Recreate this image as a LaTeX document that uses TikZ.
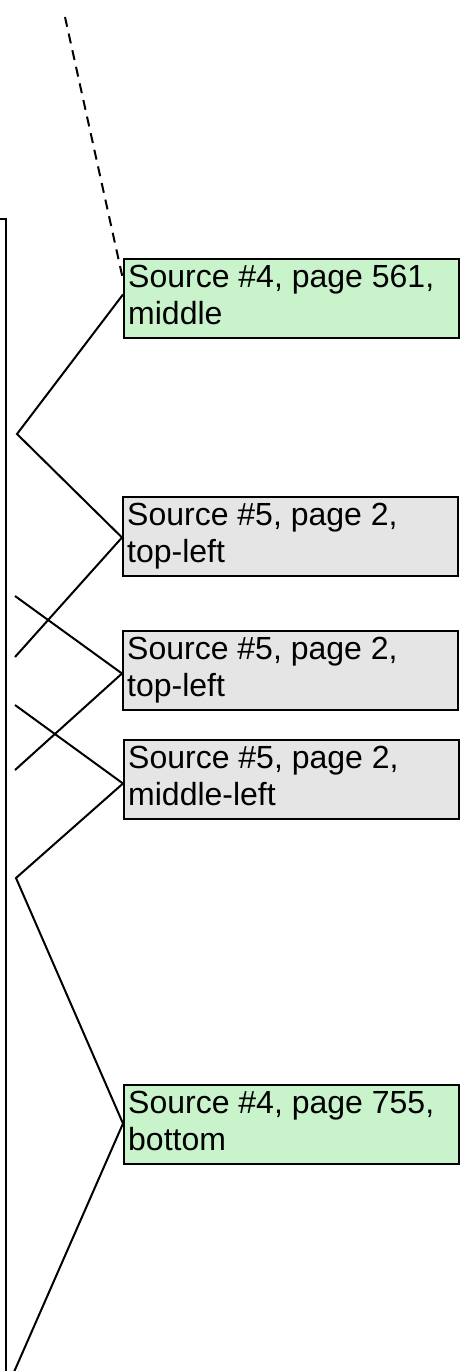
\documentclass[tikz,border=0pt]{standalone}
\usepackage{fontspec}
\setmainfont{Liberation Sans}
\definecolor{srcgreen}{RGB}{201,243,203}
\definecolor{srcgray}{RGB}{229,229,229}
\tikzset{
  srcbox/.style={draw=black, line width=2pt, minimum width=335pt, minimum height=79pt, inner sep=0pt, anchor=north west},
  greenbox/.style={srcbox, fill=srcgreen},
  graybox/.style={srcbox, fill=srcgray},
  srctext/.style={anchor=base west, align=left, inner sep=0pt, font=\fontsize{32pt}{37pt}\selectfont},
  link/.style={line width=2pt},
  dashlink/.style={line width=2pt, dash pattern=on 10pt off 7pt}
}
\begin{document}
\begin{tikzpicture}[x=1pt,y=-1pt]
\useasboundingbox (0,0) rectangle (463,1371);
% frame edge on the left
\draw[line width=2pt] (0,219) -- (6,219) -- (6,1372);
% boxes
\node[greenbox] (b1) at (123,258) {};
\node[srctext] (t1) at ([shift={(5,66)}]b1.north west) {Source \#4, page 561,\\middle};
\node[graybox] (b2) at (122,496) {};
\node[srctext] (t2) at ([shift={(5,66)}]b2.north west) {Source \#5, page 2,\\top-left};
\node[graybox] (b3) at (122,630) {};
\node[srctext] (t3) at ([shift={(5,66)}]b3.north west) {Source \#5, page 2,\\top-left};
\node[graybox] (b4) at (123,739) {};
\node[srctext] (t4) at ([shift={(5,66)}]b4.north west) {Source \#5, page 2,\\middle-left};
\node[greenbox] (b5) at (123,1084) {};
\node[srctext] (t5) at ([shift={(5,66)}]b5.north west) {Source \#4, page 755,\\bottom};
% free ends
\coordinate (d0) at (65,17);
\coordinate (p1) at (17,434);
\coordinate (p2) at (15,596);
\coordinate (p3) at (15,657);
\coordinate (p4) at (15,705);
\coordinate (p5) at (15,770);
\coordinate (p6) at (16,878);
\coordinate (p7) at (14,1372);
% connectors
\draw[dashlink] (d0) -- ([yshift=19pt]b1.west);
\draw[link] ([yshift=4pt]b1.west) -- (p1) -- ([yshift=-1pt]b2.west);
\draw[link] ([yshift=-1pt]b2.west) -- (p3);
\draw[link] (p2) -- ([yshift=-3pt]b3.west);
\draw[link] ([yshift=-3pt]b3.west) -- (p5);
\draw[link] (p4) -- ([yshift=-4pt]b4.west);
\draw[link] ([yshift=-4pt]b4.west) -- (p6) -- ([yshift=1pt]b5.west);
\draw[link] ([yshift=1pt]b5.west) -- (p7);
\end{tikzpicture}
\end{document}
